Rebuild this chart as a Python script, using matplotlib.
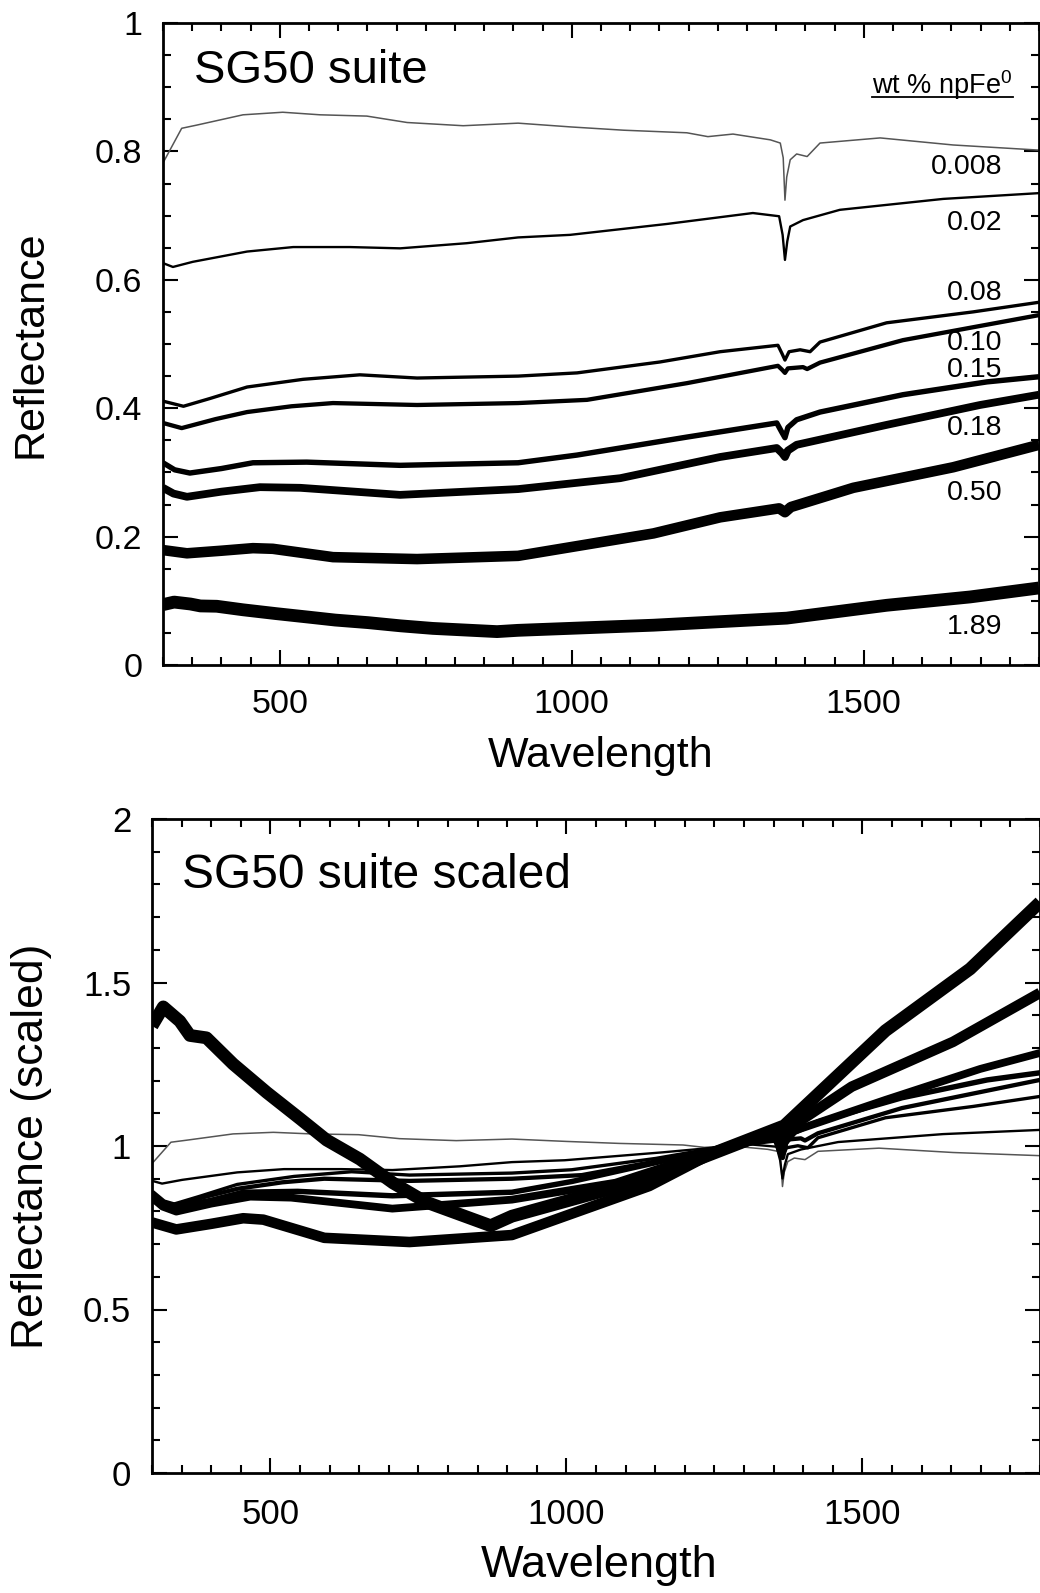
import numpy as np
import matplotlib
matplotlib.use("Agg")
import matplotlib.pyplot as plt
from matplotlib.ticker import MultipleLocator

plt.rcParams['font.family'] = ['Liberation Sans', 'DejaVu Sans']
plt.rcParams['mathtext.fontset'] = 'custom'
plt.rcParams['mathtext.rm'] = 'Liberation Sans'
plt.rcParams['mathtext.it'] = 'Liberation Sans:italic'

# ---------------- data ----------------
labels = ["0.008", "0.02", "0.08", "0.10", "0.15", "0.18", "0.50", "1.89"]

wl_0008 = [300, 332, 358, 437, 505, 569, 649, 718, 814, 908, 1000, 1089, 1197, 1233, 1276,
           1340, 1357, 1362, 1365, 1368, 1374, 1385, 1403, 1425, 1528, 1653, 1800]
r_0008 = [0.782, 0.836, 0.841, 0.857, 0.861, 0.857, 0.855, 0.845, 0.840, 0.844, 0.838, 0.833, 0.829,
          0.823, 0.827, 0.818, 0.813, 0.790, 0.724, 0.760, 0.787, 0.796, 0.792, 0.813, 0.821, 0.810, 0.802]

wl_002 = [300, 317, 351, 444, 523, 620, 706, 820, 908, 997, 1163, 1310, 1355, 1361, 1365, 1369,
          1374, 1396, 1459, 1636, 1800]
r_002 = [0.626, 0.620, 0.628, 0.644, 0.651, 0.651, 0.649, 0.657, 0.666, 0.670, 0.687, 0.704, 0.699,
         0.670, 0.631, 0.660, 0.683, 0.693, 0.709, 0.726, 0.735]

wl_008 = [300, 335, 380, 444, 540, 637, 735, 908, 1009, 1151, 1254, 1353, 1360, 1365, 1372, 1391, 1408,
          1425, 1539, 1687, 1800]
r_008 = [0.411, 0.403, 0.415, 0.433, 0.445, 0.452, 0.447, 0.450, 0.455, 0.472, 0.488, 0.498, 0.485,
         0.475, 0.488, 0.491, 0.488, 0.503, 0.533, 0.550, 0.565]

wl_010 = [300, 332, 390, 444, 520, 591, 735, 908, 1026, 1197, 1353, 1360, 1365, 1370, 1396, 1403,
          1425, 1567, 1800]
r_010 = [0.377, 0.369, 0.383, 0.394, 0.403, 0.408, 0.405, 0.408, 0.413, 0.439, 0.466, 0.460, 0.455,
         0.462, 0.464, 0.461, 0.471, 0.506, 0.545]

wl_015 = [300, 320, 346, 400, 454, 546, 706, 908, 1009, 1197, 1351, 1360, 1365, 1370, 1385, 1425,
          1567, 1711, 1800]
r_015 = [0.315, 0.304, 0.299, 0.306, 0.315, 0.316, 0.311, 0.315, 0.327, 0.355, 0.377, 0.362, 0.354,
         0.370, 0.382, 0.394, 0.421, 0.441, 0.449]

wl_018 = [300, 318, 341, 400, 466, 535, 706, 908, 1083, 1254, 1351, 1360, 1365, 1370, 1385, 1539,
          1699, 1800]
r_018 = [0.276, 0.267, 0.262, 0.270, 0.277, 0.276, 0.265, 0.274, 0.291, 0.324, 0.338, 0.330, 0.324,
         0.334, 0.343, 0.374, 0.405, 0.421]

wl_050 = [300, 341, 400, 454, 488, 591, 735, 908, 1140, 1254, 1355, 1365, 1375, 1482, 1653, 1800]
r_050 = [0.179, 0.174, 0.178, 0.182, 0.181, 0.168, 0.165, 0.170, 0.205, 0.230, 0.244, 0.238, 0.246,
         0.276, 0.308, 0.343]

wl_189 = [300, 319, 347, 364, 392, 437, 494, 550, 595, 651, 707, 762, 872, 908, 1140, 1368, 1539, 1682, 1800]
r_189 = [0.094, 0.098, 0.095, 0.092, 0.0915, 0.086, 0.080, 0.0745, 0.070, 0.066, 0.061, 0.057, 0.052,
         0.054, 0.062, 0.073, 0.093, 0.106, 0.120]

wavelengths = [wl_0008, wl_002, wl_008, wl_010, wl_015, wl_018, wl_050, wl_189]
reflect = [r_0008, r_002, r_008, r_010, r_015, r_018, r_050, r_189]

# label positions (y values where the concentration labels sit)
label_y = [0.776, 0.688, 0.579, 0.502, 0.459, 0.369, 0.268, 0.059]

# wavelength at which the scaled panel is normalised
scale_wl = 1280

# ---------------- styling ----------------
line_w = [1.1, 1.7, 2.4, 3.1, 3.9, 5.6, 7.6, 9.2]
line_c = ['#555555'] + ['black'] * 7

fig = plt.figure(figsize=(10.40, 15.93), dpi=100)
W, H = 1040, 1593
ax1 = fig.add_axes([163 / W, 1 - 665 / H, 876 / W, 642 / H])
ax2 = fig.add_axes([152 / W, 1 - 1473 / H, 888 / W, 654 / H])


def style(ax, ymaj, ymin, lsize, xpad):
    ax.set_xlim(300, 1800)
    ax.xaxis.set_major_locator(MultipleLocator(500))
    ax.xaxis.set_minor_locator(MultipleLocator(50))
    ax.yaxis.set_major_locator(MultipleLocator(ymaj))
    ax.yaxis.set_minor_locator(MultipleLocator(ymin))
    ax.tick_params(which='both', direction='in', top=True, right=True, width=1.5, colors='black')
    ax.tick_params(which='major', length=11, labelsize=lsize)
    ax.tick_params(which='minor', length=6)
    ax.tick_params(axis='x', which='major', pad=xpad)
    ax.tick_params(axis='y', which='major', pad=15)
    for s in ax.spines.values():
        s.set_linewidth(2.0)
    ax.yaxis.set_major_formatter(matplotlib.ticker.FuncFormatter(lambda v, p: f"{v:g}"))


# ---------------- top panel ----------------
for wl, r, w, c in zip(wavelengths, reflect, line_w, line_c):
    ax1.plot(wl, r, color=c, lw=w, solid_joinstyle='round', solid_capstyle='butt')
ax1.set_ylim(0, 1)
style(ax1, 0.2, 0.05, 24.5, 17)
ax1.set_xlabel("Wavelength", fontsize=31, va='center')
ax1.xaxis.set_label_coords(0.5, -0.142)
ax1.set_ylabel("Reflectance", fontsize=31, va='center')
ax1.yaxis.set_label_coords(-0.151, 0.5)
ax1.text(353, 0.9065, "SG50 suite", fontsize=34, va='baseline', ha='left')
for lab, yy in zip(labels, label_y):
    ax1.text(1738, yy, lab, fontsize=20.5, ha='right', va='center')
hdr = ax1.text(1755, 0.903, "wt % npFe$^{0}$", fontsize=19.5, ha='right', va='center')

# ---------------- bottom panel ----------------
for wl, r, w, c in zip(wavelengths, reflect, line_w, line_c):
    ref = np.interp(scale_wl, wl, r)
    ax2.plot(wl, np.asarray(r) / ref, color=c, lw=w, solid_joinstyle='round', solid_capstyle='butt')
ax2.set_ylim(0, 2)
style(ax2, 0.5, 0.1, 25, 18)
ax2.set_xlabel("Wavelength", fontsize=32.5, va='center')
ax2.xaxis.set_label_coords(0.503, -0.142)
ax2.set_ylabel("Reflectance (scaled)", fontsize=32, va='center')
ax2.yaxis.set_label_coords(-0.136, 0.5)
ax2.text(351, 1.789, "SG50 suite scaled", fontsize=34.5, va='baseline', ha='left')

# underline the header text
fig.canvas.draw()
bb = hdr.get_window_extent()
inv = ax1.transAxes.inverted()
(x0, y0), (x1, y1) = inv.transform([[bb.x0, bb.y0], [bb.x1, bb.y1]])
uy = y0 + 0.15 * (y1 - y0)
ax1.plot([x0, x1], [uy, uy], transform=ax1.transAxes, color='black', lw=1.3, clip_on=False)

fig.savefig("out.png", dpi=100)
